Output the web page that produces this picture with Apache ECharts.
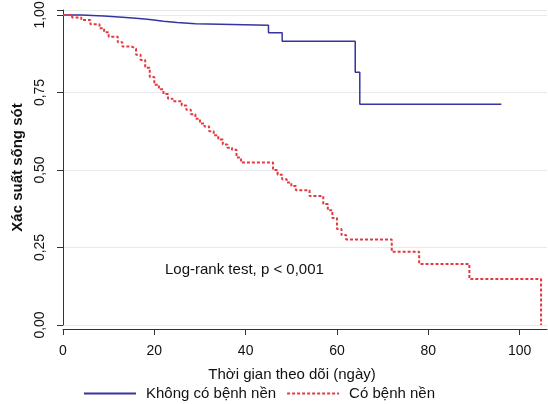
<!DOCTYPE html>
<html>
<head>
<meta charset="utf-8">
<script src="https://cdn.jsdelivr.net/npm/echarts@6/dist/echarts.min.js"></script>
<style>
  html, body { margin: 0; padding: 0; background: #fff; }
  #chart { width: 548px; height: 404px; }
</style>
</head>
<body>
<div id="chart"></div>
<script>
// Kaplan-Meier step points (time in days, survival after the step)
var timesNoComorb = [0, 4, 9, 13, 16, 19, 22, 25, 29, 45, 48, 64, 65, 96];
var survNoComorb  = [1.0, 0.997, 0.993, 0.989, 0.985, 0.98, 0.976, 0.972, 0.967, 0.943, 0.915, 0.815, 0.712, 0.712];

var timesComorb = [0, 2, 4, 6, 8, 9, 10, 12, 13, 15, 16, 17, 18, 19, 20, 21, 22, 23, 24, 26, 27, 28, 29, 30,
                   31, 32, 33, 34, 35, 36, 37, 38, 39, 46, 47, 48, 49, 50, 51, 54, 57, 58, 59, 60, 61, 62,
                   72, 78, 89, 104.7];
var survComorb  = [1.0, 0.992, 0.984, 0.97, 0.957, 0.944, 0.93, 0.912, 0.898, 0.892, 0.872, 0.855, 0.83, 0.8,
                   0.775, 0.76, 0.745, 0.73, 0.722, 0.708, 0.694, 0.68, 0.665, 0.65, 0.64, 0.625, 0.612, 0.598,
                   0.582, 0.572, 0.565, 0.54, 0.524, 0.5, 0.485, 0.47, 0.46, 0.448, 0.435, 0.416, 0.39, 0.37,
                   0.345, 0.31, 0.29, 0.276, 0.236, 0.197, 0.148, 0];

var xTicks = [0, 20, 40, 60, 80, 100];
var yTicks = [0, 0.25, 0.5, 0.75, 1.0];

var seriesNames = ["Không có bệnh nền", "Có bệnh nền"];

function pairs(ts, vs) {
    return ts.map(function (t, i) { return [t, vs[i]]; });
}

function commaNum(v) {
    return v.toFixed(2).replace(".", ",");
}

var chart = echarts.init(document.getElementById("chart"));

var font = "Liberation Sans, Arial, sans-serif";

chart.setOption({
    animation: false,
    textStyle: { fontFamily: font },
    grid: { left: 63, right: 1, top: 10, bottom: 79, containLabel: false, outerBoundsMode: "none" },
    xAxis: {
        type: "value",
        min: 0,
        max: 106,
        interval: 20,
        offset: 4,
        name: "Thời gian theo dõi (ngày)",
        nameLocation: "middle",
        nameGap: 38,
        nameTextStyle: { fontSize: 15, color: "#111", padding: [0, 26, 0, 0] },
        axisLine: { onZero: false, lineStyle: { color: "#333", width: 1 } },
        axisTick: { length: 6, lineStyle: { color: "#333" } },
        axisLabel: {
            fontSize: 14, color: "#111", margin: 15, showMaxLabel: false,
            formatter: function (v) { return xTicks.indexOf(v) >= 0 ? String(v) : ""; }
        },
        splitLine: { show: false }
    },
    yAxis: {
        type: "value",
        min: 0,
        max: 1.016,
        interval: 0.25,
        offset: 4,
        name: "Xác suất sống sót",
        nameLocation: "middle",
        nameGap: 34,
        nameTextStyle: { fontSize: 15, fontWeight: "bold", color: "#111" },
        axisLine: { show: true, lineStyle: { color: "#333", width: 1 } },
        axisTick: { show: true, length: 6, lineStyle: { color: "#333" } },
        axisLabel: {
            fontSize: 14, color: "#111", rotate: 90, margin: 12,
            formatter: function (v) { return yTicks.indexOf(v) >= 0 ? commaNum(v) : ""; }
        },
        splitLine: { show: true, lineStyle: { color: "#e6eaee", width: 1 } }
    },
    legend: {
        bottom: 3,
        left: 83,
        padding: 0,
        itemWidth: 52,
        itemHeight: 10,
        itemGap: 10,
        itemStyle: { opacity: 0 },
        textStyle: { fontSize: 15, color: "#111", fontFamily: font, padding: [0, 0, 0, 5] },
        data: seriesNames
    },
    graphic: [{
        type: "text",
        left: 165,
        top: 262,
        style: { text: "Log-rank test, p < 0,001", fontSize: 15, fill: "#111", fontFamily: font }
    }],
    series: [
        {
            name: seriesNames[0],
            type: "line",
            step: "end",
            showSymbol: false,
            symbol: "none",
            data: pairs(timesNoComorb, survNoComorb),
            lineStyle: { color: "#3535a0", width: 1.5 },
            itemStyle: { color: "#3535a0" }
        },
        {
            name: seriesNames[1],
            type: "line",
            step: "end",
            showSymbol: false,
            symbol: "none",
            data: pairs(timesComorb, survComorb),
            lineStyle: { color: "#e33a40", width: 2, type: [3, 2] },
            itemStyle: { color: "#e33a40" }
        }
    ]
});
</script>
</body>
</html>
